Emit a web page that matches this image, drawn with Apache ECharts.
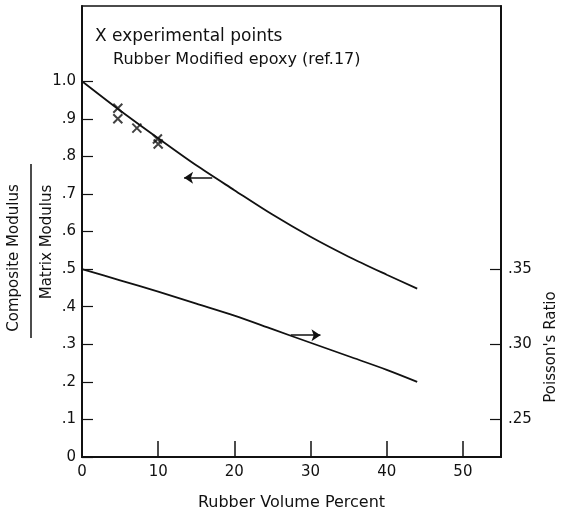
<!DOCTYPE html>
<html>
<head>
<meta charset="utf-8">
<script src="https://cdn.jsdelivr.net/npm/echarts@6/dist/echarts.min.js"></script>
<style>
  html, body { margin: 0; padding: 0; background: #fff; }
  #chart { width: 564px; height: 516px; }
</style>
</head>
<body>
<div id="chart"></div>
<script>
// rubber volume percent along the curves
const volume = [0, 5, 10, 15, 20, 25, 30, 35, 40, 44];
// composite / matrix modulus (left axis)
const modulus = [1.0, 0.922, 0.848, 0.776, 0.71, 0.645, 0.586, 0.533, 0.485, 0.448];
// poisson's ratio (right axis)
const poisson = [0.35, 0.3425, 0.335, 0.327, 0.319, 0.31, 0.301, 0.292, 0.283, 0.275];
// experimental points, rubber modified epoxy (ref.17)
const expVolume = [4.7, 4.7, 7.2, 9.9, 10.0];
const expModulus = [0.928, 0.9, 0.875, 0.846, 0.833];

const xTicks = [10, 20, 30, 40, 50];
const xLabels = [0, 10, 20, 30, 40, 50];
const leftTicks = [0, 0.1, 0.2, 0.3, 0.4, 0.5, 0.6, 0.7, 0.8, 0.9, 1.0];
const rightTicks = [0.25, 0.30, 0.35];

const font = 'DejaVu Sans';
const ink = '#111';

const chart = echarts.init(document.getElementById('chart'));

const leftFmt = v => {
  if (v === 0) return '0';
  if (Math.abs(v - 1) < 1e-9) return '1.0';
  return '.' + Math.round(v * 10);
};
const rightFmt = v => '.' + Math.round(v * 100);

const option = {
  backgroundColor: '#fff',
  animation: false,
  grid: {
    left: 82, right: 63, top: 6, bottom: 54,
    show: true, borderColor: ink, borderWidth: 1.5
  },
  xAxis: {
    type: 'value',
    min: 0, max: 55,
    name: 'Rubber Volume Percent',
    nameLocation: 'middle',
    nameGap: 38,
    nameTextStyle: { color: ink, fontFamily: font, fontSize: 16 },
    axisLine: { lineStyle: { color: ink, width: 2 } },
    axisTick: { inside: true, length: 16, customValues: xTicks, lineStyle: { color: ink, width: 1.5 } },
    axisLabel: { customValues: xLabels, color: ink, fontFamily: font, fontSize: 15, margin: 8 },
    splitLine: { show: false }
  },
  yAxis: [
    {
      type: 'value',
      min: 0, max: 1.2,
      axisLine: { show: true, lineStyle: { color: ink, width: 2 } },
      axisTick: { inside: true, length: 11, customValues: leftTicks, lineStyle: { color: ink, width: 1.2 } },
      axisLabel: { customValues: leftTicks, formatter: leftFmt, color: ink, fontFamily: font, fontSize: 15, margin: 6 },
      splitLine: { show: false }
    },
    {
      type: 'value',
      min: 0.225, max: 0.525,
      position: 'right',
      axisLine: { show: true, lineStyle: { color: ink, width: 2 } },
      axisTick: { inside: true, length: 11, customValues: rightTicks, lineStyle: { color: ink, width: 1.2 } },
      axisLabel: { customValues: rightTicks, formatter: rightFmt, color: ink, fontFamily: font, fontSize: 15, margin: 7 },
      splitLine: { show: false }
    }
  ],
  graphic: [
    { type: 'text', left: 95, top: 28, style: { text: 'X experimental points', fill: ink, font: '17px "' + font + '"' } },
    { type: 'text', left: 113, top: 52, style: { text: 'Rubber Modified epoxy (ref.17)', fill: ink, font: '16px "' + font + '"' } },
    {
      type: 'text', x: 14, y: 258, rotation: Math.PI / 2,
      style: { text: 'Composite Modulus', fill: ink, font: '15px "' + font + '"', align: 'center', verticalAlign: 'middle' }
    },
    { type: 'line', shape: { x1: 31, y1: 164, x2: 31, y2: 338 }, style: { stroke: ink, lineWidth: 1.5 } },
    {
      type: 'text', x: 47, y: 242, rotation: Math.PI / 2,
      style: { text: 'Matrix Modulus', fill: ink, font: '15px "' + font + '"', align: 'center', verticalAlign: 'middle' }
    },
    {
      type: 'text', x: 551, y: 347, rotation: Math.PI / 2,
      style: { text: "Poisson's Ratio", fill: ink, font: '15px "' + font + '"', align: 'center', verticalAlign: 'middle' }
    }
  ],
  series: [
    {
      type: 'line',
      yAxisIndex: 0,
      data: volume.map((v, i) => [v, modulus[i]]),
      smooth: 0.3,
      symbol: 'none',
      lineStyle: { color: ink, width: 1.8 },
      markLine: {
        silent: true,
        symbol: ['none', 'arrow'],
        symbolSize: 9,
        label: { show: false },
        lineStyle: { color: ink, width: 1.5, type: 'solid' },
        data: [[{ coord: [17.1, 0.743] }, { coord: [13.4, 0.743] }]]
      }
    },
    {
      type: 'line',
      yAxisIndex: 1,
      data: volume.map((v, i) => [v, poisson[i]]),
      smooth: 0.3,
      symbol: 'none',
      lineStyle: { color: ink, width: 1.8 },
      markLine: {
        silent: true,
        symbol: ['none', 'arrow'],
        symbolSize: 9,
        label: { show: false },
        lineStyle: { color: ink, width: 1.5, type: 'solid' },
        data: [[{ coord: [27.4, 0.306] }, { coord: [31.3, 0.306] }]]
      }
    },
    {
      type: 'scatter',
      yAxisIndex: 0,
      data: expVolume.map((v, i) => [v, expModulus[i]]),
      symbol: 'path://M0 0L10 10M10 0L0 10',
      symbolSize: 9,
      itemStyle: { color: 'none', borderColor: ink, borderWidth: 2 }
    }
  ]
};

chart.setOption(option);
</script>
</body>
</html>
